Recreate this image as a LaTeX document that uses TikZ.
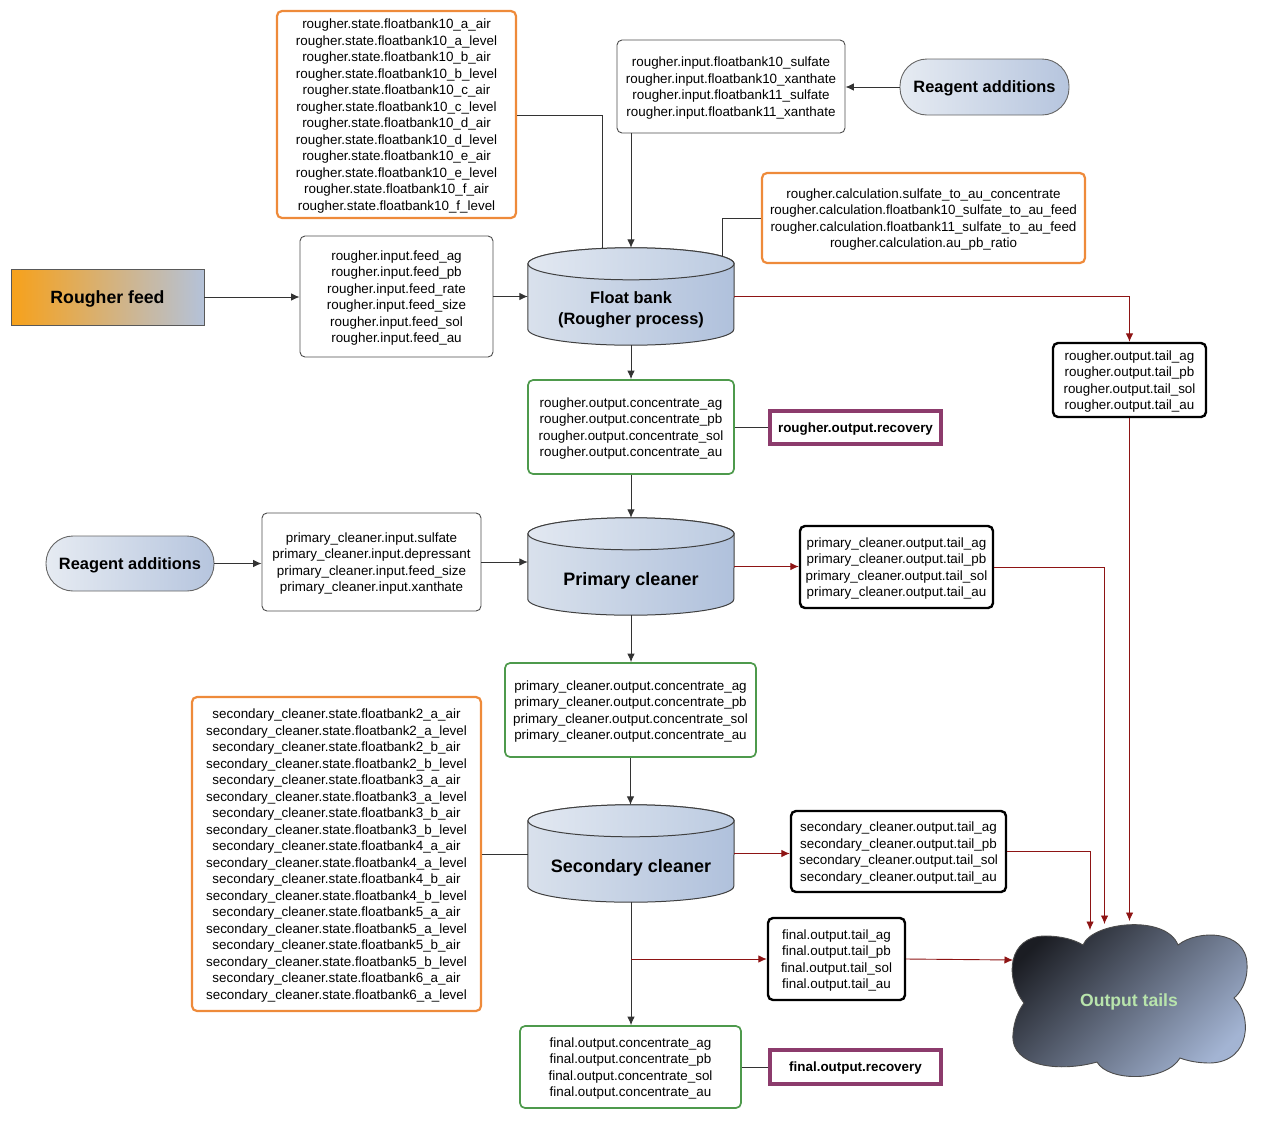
\documentclass[tikz,border=0pt]{standalone}
\usepackage{fontspec}
\setmainfont{Liberation Sans}
\usetikzlibrary{arrows.meta,calc,backgrounds}

\definecolor{orangeC}{HTML}{EE8A3A}
\definecolor{greenC}{HTML}{4E9A4C}
\definecolor{plumC}{HTML}{8C3B6C}
\definecolor{redC}{HTML}{8E1414}
\definecolor{lineC}{HTML}{333333}
\definecolor{cylL}{HTML}{D9E1EC}
\definecolor{cylR}{HTML}{B0C1DC}
\definecolor{capL}{HTML}{E2E8F1}
\definecolor{capR}{HTML}{BCCBE1}
\definecolor{pillL}{HTML}{E6EBF2}
\definecolor{pillR}{HTML}{B6C5DE}
\definecolor{feedL}{HTML}{F7A11A}
\definecolor{feedR}{HTML}{B4C2D9}
\definecolor{cloudA}{HTML}{1B1D23}
\definecolor{cloudM}{HTML}{4D535C}
\definecolor{cloudB}{HTML}{A3B4D3}
\definecolor{cloudTxt}{HTML}{B8E4AC}

\newcommand\boxfont{\fontsize{13.4}{16.5}\selectfont}
\newcommand\tankfont{\fontsize{18}{21}\selectfont\bfseries}

% tank body and lid drawn behind a named cylinder node
\newcommand\tankshape[1]{%
  \path[draw=black!75, line width=1pt, left color=cylL, right color=cylR]
    ([yshift=-16pt]#1.north west) -- ([yshift=16pt]#1.south west)
    arc[start angle=180, end angle=360, x radius=103pt, y radius=16pt]
    -- ([yshift=-16pt]#1.north east)
    arc[start angle=0, end angle=180, x radius=103pt, y radius=16pt] -- cycle;
  \path[draw=black!75, line width=1pt, left color=capL, right color=capR]
    ([yshift=-16pt]#1.north) ellipse[x radius=103pt, y radius=16pt];
}

\tikzset{
  box/.style={rectangle, rounded corners=5pt, align=center, font=\boxfont,
    inner sep=0pt, text depth=-2pt},
  plainbox/.style={box, draw=black!70, line width=0.9pt},
  statebox/.style={box, draw=orangeC, line width=2.2pt},
  concbox/.style={box, draw=greenC, line width=1.7pt},
  tailbox/.style={box, draw=black, line width=2.4pt},
  recbox/.style={rectangle, draw=plumC, line width=4pt, inner sep=0pt, text depth=0pt,
    font=\fontsize{13.4}{16}\selectfont\bfseries},
  pill/.style={rectangle, rounded corners=27pt, draw=black!60, line width=0.9pt, text depth=0pt,
    left color=pillL, right color=pillR, font=\fontsize{16.4}{20}\selectfont\bfseries},
  tank/.style={rectangle, minimum width=206pt, minimum height=97pt, inner sep=0pt},
  tanklabel/.style={align=center, font=\tankfont, inner sep=0pt},
  link/.style={draw=lineC, line width=0.9pt},
  arr/.style={link, -{Latex[length=8.5pt,width=7.5pt]}},
  redarr/.style={draw=redC, line width=0.9pt, -{Latex[length=8.5pt,width=7.5pt]}},
}

\begin{document}
\begin{tikzpicture}[x=1pt,y=-1pt]
\useasboundingbox (0,0) rectangle (1280,1120);

% ---------- rougher stage ----------
\node[statebox, minimum width=239pt, minimum height=207pt] (rstate) at (396.5,114.5) {%
rougher.state.floatbank10\_a\_air\\rougher.state.floatbank10\_a\_level\\
rougher.state.floatbank10\_b\_air\\rougher.state.floatbank10\_b\_level\\
rougher.state.floatbank10\_c\_air\\rougher.state.floatbank10\_c\_level\\
rougher.state.floatbank10\_d\_air\\rougher.state.floatbank10\_d\_level\\
rougher.state.floatbank10\_e\_air\\rougher.state.floatbank10\_e\_level\\
rougher.state.floatbank10\_f\_air\\rougher.state.floatbank10\_f\_level};

\node[plainbox, minimum width=228pt, minimum height=93pt] (rreag) at (731,86.5) {%
rougher.input.floatbank10\_sulfate\\rougher.input.floatbank10\_xanthate\\
rougher.input.floatbank11\_sulfate\\rougher.input.floatbank11\_xanthate};

\node[pill, minimum width=169pt, minimum height=56pt] (radd1) at (984.5,87) {Reagent additions};

\node[statebox, minimum width=323pt, minimum height=90pt] (rcalc) at (923.5,218) {%
rougher.calculation.sulfate\_to\_au\_concentrate\\
rougher.calculation.floatbank10\_sulfate\_to\_au\_feed\\
rougher.calculation.floatbank11\_sulfate\_to\_au\_feed\\
rougher.calculation.au\_pb\_ratio};

\node[rectangle, draw=black!65, line width=0.9pt, left color=feedL, right color=feedR,
  minimum width=193pt, minimum height=56pt, text depth=0pt,
  font=\fontsize{17.7}{21}\selectfont\bfseries]
  (feed) at (107.5,297) {Rougher feed};

\node[plainbox, minimum width=193pt, minimum height=121pt] (rfeed) at (396.5,296.5) {%
rougher.input.feed\_ag\\rougher.input.feed\_pb\\rougher.input.feed\_rate\\
rougher.input.feed\_size\\rougher.input.feed\_sol\\rougher.input.feed\_au};

\node[tank] (fbank) at (631,296.5) {};
\begin{scope}[on background layer]\tankshape{fbank}\end{scope}
\node[tanklabel, font=\fontsize{16.4}{21}\selectfont\bfseries] (fbanktxt) at (631,310)
  {Float bank\\(Rougher process)};

\node[concbox, minimum width=206pt, minimum height=94pt] (rconc) at (631,427) {%
rougher.output.concentrate\_ag\\rougher.output.concentrate\_pb\\
rougher.output.concentrate\_sol\\rougher.output.concentrate\_au};

\node[recbox, minimum width=171pt, minimum height=33pt] (rrec) at (855.5,427.5) {rougher.output.recovery};

\node[tailbox, minimum width=153pt, minimum height=74pt] (rtail) at (1129.5,380) {%
rougher.output.tail\_ag\\rougher.output.tail\_pb\\
rougher.output.tail\_sol\\rougher.output.tail\_au};

% ---------- primary cleaner ----------
\node[pill, minimum width=168pt, minimum height=55pt] (radd2) at (130,563.5) {Reagent additions};

\node[plainbox, minimum width=219pt, minimum height=98pt] (pin) at (371.5,562) {%
primary\_cleaner.input.sulfate\\primary\_cleaner.input.depressant\\
primary\_cleaner.input.feed\_size\\primary\_cleaner.input.xanthate};

\node[tank] (pclean) at (631,566.5) {};
\begin{scope}[on background layer]\tankshape{pclean}\end{scope}
\node[tanklabel] (pcleantxt) at (631,581) {Primary cleaner};

\node[tailbox, minimum width=193pt, minimum height=82pt] (ptail) at (896.5,567) {%
primary\_cleaner.output.tail\_ag\\primary\_cleaner.output.tail\_pb\\
primary\_cleaner.output.tail\_sol\\primary\_cleaner.output.tail\_au};

\node[concbox, minimum width=251pt, minimum height=94pt] (pconc) at (630.5,710) {%
primary\_cleaner.output.concentrate\_ag\\primary\_cleaner.output.concentrate\_pb\\
primary\_cleaner.output.concentrate\_sol\\primary\_cleaner.output.concentrate\_au};

% ---------- secondary cleaner ----------
\node[statebox, minimum width=289pt, minimum height=314pt] (sstate) at (336.5,854) {%
secondary\_cleaner.state.floatbank2\_a\_air\\secondary\_cleaner.state.floatbank2\_a\_level\\
secondary\_cleaner.state.floatbank2\_b\_air\\secondary\_cleaner.state.floatbank2\_b\_level\\
secondary\_cleaner.state.floatbank3\_a\_air\\secondary\_cleaner.state.floatbank3\_a\_level\\
secondary\_cleaner.state.floatbank3\_b\_air\\secondary\_cleaner.state.floatbank3\_b\_level\\
secondary\_cleaner.state.floatbank4\_a\_air\\secondary\_cleaner.state.floatbank4\_a\_level\\
secondary\_cleaner.state.floatbank4\_b\_air\\secondary\_cleaner.state.floatbank4\_b\_level\\
secondary\_cleaner.state.floatbank5\_a\_air\\secondary\_cleaner.state.floatbank5\_a\_level\\
secondary\_cleaner.state.floatbank5\_b\_air\\secondary\_cleaner.state.floatbank5\_b\_level\\
secondary\_cleaner.state.floatbank6\_a\_air\\secondary\_cleaner.state.floatbank6\_a\_level};

\node[tank] (sclean) at (631,853.5) {};
\begin{scope}[on background layer]\tankshape{sclean}\end{scope}
\node[tanklabel] (scleantxt) at (631,867.5) {Secondary cleaner};

\node[tailbox, minimum width=215pt, minimum height=81pt] (stail) at (898.5,851.5) {%
secondary\_cleaner.output.tail\_ag\\secondary\_cleaner.output.tail\_pb\\
secondary\_cleaner.output.tail\_sol\\secondary\_cleaner.output.tail\_au};

\node[tailbox, minimum width=137pt, minimum height=82pt] (ftail) at (836.5,959) {%
final.output.tail\_ag\\final.output.tail\_pb\\final.output.tail\_sol\\final.output.tail\_au};

\node[concbox, minimum width=221pt, minimum height=82pt] (fconc) at (630.5,1067) {%
final.output.concentrate\_ag\\final.output.concentrate\_pb\\
final.output.concentrate\_sol\\final.output.concentrate\_au};

\node[recbox, minimum width=171pt, minimum height=34pt] (frec) at (855.5,1067) {final.output.recovery};

% ---------- output tails cloud ----------
\path[draw=black!70, line width=0.9pt, top color=cloudA, middle color=cloudM,
      bottom color=cloudB, shading angle=45]
  (1024,1003) .. controls (1004,978) and (1008,936) .. (1045,936)
  .. controls (1062,936) and (1075,940) .. (1083,945)
  .. controls (1092,922) and (1166,914) .. (1178,945)
  .. controls (1198,929) and (1246,930) .. (1247,964)
  .. controls (1248,982) and (1240,993) .. (1234,998)
  .. controls (1252,1014) and (1252,1062) .. (1210,1063)
  .. controls (1198,1063) and (1188,1061) .. (1180,1058)
  .. controls (1166,1082) and (1108,1082) .. (1097,1062)
  .. controls (1062,1072) and (1010,1068) .. (1013,1034)
  .. controls (1014,1020) and (1019,1010) .. (1024,1003) -- cycle;
\node[font=\fontsize{17.6}{20}\selectfont\bfseries, text=cloudTxt, text depth=0pt]
  (tails) at (1129,1000) {Output tails};
\coordinate (inS) at (1090,930);
\coordinate (inP) at (1104.5,924);
\coordinate (inR) at (1129.5,921);
\coordinate (inF) at (1013,960);

% ---------- connectors ----------
\draw[arr] (feed.east) -- (feed.east -| rfeed.west);
\draw[arr] (rfeed.east) -- (rfeed.east -| fbank.west);
\draw[arr] (radd1.west) -- (radd1.west -| rreag.east);
\draw[arr] (fbank.north |- rreag.south) -- (fbank.north);
\draw[link] (rstate.east |- 0,115) -| ([xshift=-29pt]fbank.north);
\draw[link] (rcalc.west) -| ([xshift=91pt,yshift=-8.5pt]fbank.north);
\draw[redarr] (fbank.east) -| (rtail.north);
\draw[arr] (fbank.south) -- (rconc.north);
\draw[link] (rconc.east) -- (rconc.east -| rrec.west);
\draw[arr] (rconc.south) -- (pclean.north);

\draw[arr] (radd2.east) -- (radd2.east -| pin.west);
\draw[arr] (pin.east) -- (pin.east -| pclean.west);
\draw[redarr] (pclean.east) -- (pclean.east -| ptail.west);
\draw[redarr] (ptail.east) -| (inP);
\draw[arr] (pclean.south) -- (pclean.south |- pconc.north);
\draw[arr] (pconc.south) -- (pconc.south |- sclean.north);

\draw[link] (sstate.east) -- (sstate.east -| sclean.west);
\draw[redarr] (sclean.east) -- (sclean.east -| stail.west);
\draw[redarr] (stail.east) -| (inS);
\draw[redarr] (rtail.south) -- (inR);
\draw[arr] (sclean.south) -- (sclean.south |- fconc.north);
\draw[redarr] (sclean.south |- ftail.west) -- (ftail.west);
\draw[redarr] (ftail.east) -- (inF);
\draw[link] (fconc.east) -- (fconc.east -| frec.west);
\end{tikzpicture}
\end{document}
